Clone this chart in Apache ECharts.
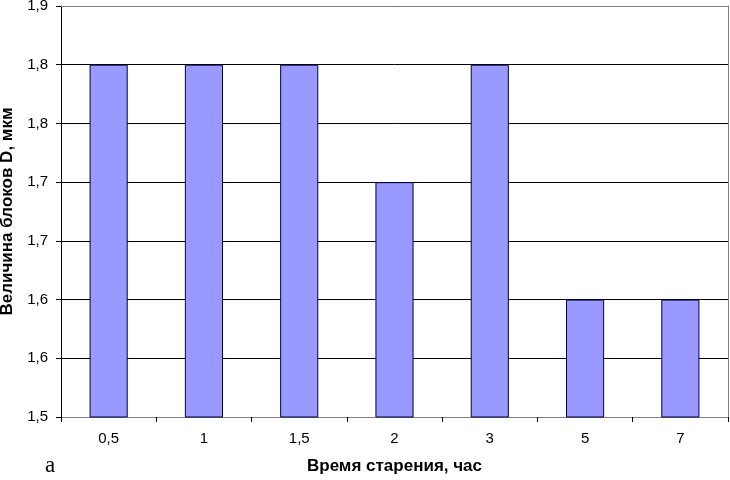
<!DOCTYPE html>
<html><head><meta charset="utf-8">
<script src="https://cdn.jsdelivr.net/npm/echarts@6/dist/echarts.min.js"></script>
<style>html,body{margin:0;padding:0;background:#fff}#c{width:730px;height:480px}</style>
</head><body><div id="c"></div>
<script>
const categories = ['0,5','1','1,5','2','3','5','7'];
const values = [1.8, 1.8, 1.8, 1.7, 1.8, 1.6, 1.6];
const yTickLabels = ['1,5','1,6','1,6','1,7','1,7','1,8','1,8','1,9'];
const yMin = 1.5, yMax = 1.85, yStep = 0.05;

const chart = echarts.init(document.getElementById('c'), null, {renderer:'canvas'});
const font = 'Arial, "Liberation Sans", sans-serif';
chart.setOption({
  animation:false,
  backgroundColor:'#fff',
  title:{text:'a', left:45, top:454, padding:0, textStyle:{fontFamily:'"Liberation Serif", "Times New Roman", serif', fontSize:23, fontWeight:'normal', color:'#000'}},
  grid:{left:61, right:2, top:6, bottom:63, outerBoundsMode:'none', containLabel:false},
  xAxis:[{
    type:'category', data:categories,
    name:'Время старения, час', nameLocation:'middle', nameGap:41,
    nameTextStyle:{fontFamily:font, fontSize:17, fontWeight:'bold', color:'#000'},
    axisLine:{lineStyle:{color:'#808080', width:1}},
    axisTick:{show:true, length:5, lineStyle:{color:'#000'}},
    axisLabel:{fontFamily:font, fontSize:15, color:'#000', margin:14},
    splitLine:{show:false}
  },{
    type:'category', data:categories, position:'top',
    axisLine:{show:true, lineStyle:{color:'#808080', width:1}},
    axisTick:{show:false}, axisLabel:{show:false}
  }],
  yAxis:[{
    type:'value', min:yMin, max:yMax, interval:yStep,
    name:'Величина блоков D, мкм', nameLocation:'middle', nameGap:39, nameRotate:90,
    nameTextStyle:{fontFamily:font, fontSize:17, fontWeight:'bold', color:'#000'},
    axisLine:{show:true, lineStyle:{color:'#000', width:1}},
    axisTick:{show:true, length:5, lineStyle:{color:'#000'}},
    axisLabel:{fontFamily:font, fontSize:15, color:'#000', margin:13,
      formatter:function(v){return yTickLabels[Math.round((v-yMin)/yStep)];}},
    splitLine:{show:true, lineStyle:{color:'#000', width:1}}
  },{
    type:'value', min:yMin, max:yMax, interval:yStep, position:'right',
    axisLine:{show:true, lineStyle:{color:'#808080', width:1}},
    axisTick:{show:false}, axisLabel:{show:false}, splitLine:{show:false}
  }],
  series:[{
    type:'bar', data:values, barWidth:'40%',
    itemStyle:{color:'#9999FF', borderColor:'#000040', borderWidth:1}
  }]
});
</script></body></html>
